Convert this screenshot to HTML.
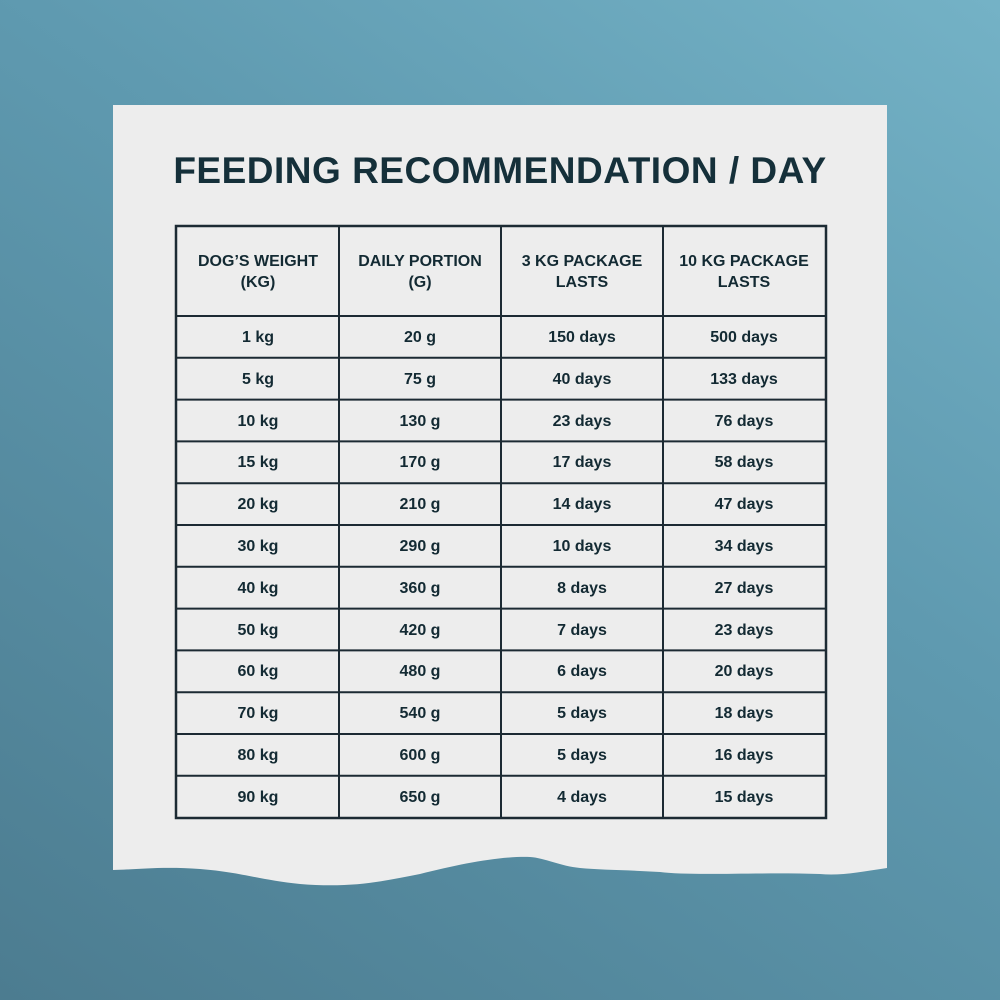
<!DOCTYPE html>
<html><head><style>
body{margin:0;width:1000px;height:1000px;overflow:hidden;position:relative;font-family:"Liberation Sans",sans-serif;}
.bg{position:absolute;inset:0;background:linear-gradient(215deg,#74b2c6 0%,#5f9ab0 40%,#4c7c90 100%);}
svg{position:absolute;left:0;top:0;}
.t{position:absolute;color:#132a33;font-weight:bold;text-align:center;}
.title{left:113px;width:774px;top:150px;font-size:37px;letter-spacing:0.5px;color:#15303a;}
.h{font-size:16px;line-height:21px;width:162px;}
.c{font-size:16px;width:162px;line-height:20px;}
</style></head><body>
<div class="bg"></div>
<svg width="1000" height="1000">
<path d="M113 105 H887 V868 C860 872 840 876 820 874 C760 872 690 876 660 872 C630 870 600 870 580 868 C560 866 545 858 530 857 C500 856 460 864 420 874 C380 882 350 888 300 884 C260 880 240 872 200 869 C160 866 130 870 113 870 Z" fill="#ededed"/>
<g stroke="#1c2a33" stroke-width="2" fill="none">
<rect x="176" y="226" width="650" height="592" stroke-width="2.5"/>
<line x1="339" y1="226" x2="339" y2="818"/><line x1="501" y1="226" x2="501" y2="818"/><line x1="663" y1="226" x2="663" y2="818"/>
<line x1="176" y1="316" x2="826" y2="316"/><line x1="176" y1="357.8" x2="826" y2="357.8"/><line x1="176" y1="399.6" x2="826" y2="399.6"/><line x1="176" y1="441.4" x2="826" y2="441.4"/><line x1="176" y1="483.2" x2="826" y2="483.2"/><line x1="176" y1="525" x2="826" y2="525"/><line x1="176" y1="566.8" x2="826" y2="566.8"/><line x1="176" y1="608.6" x2="826" y2="608.6"/><line x1="176" y1="650.4" x2="826" y2="650.4"/><line x1="176" y1="692.2" x2="826" y2="692.2"/><line x1="176" y1="734" x2="826" y2="734"/><line x1="176" y1="775.8" x2="826" y2="775.8"/>
</g></svg>
<div class="t title">FEEDING RECOMMENDATION / DAY</div>
<div class="t h" style="left:177px;top:251px">DOG’S WEIGHT<br>(KG)</div>
<div class="t h" style="left:339px;top:251px">DAILY PORTION<br>(G)</div>
<div class="t h" style="left:501px;top:251px">3 KG PACKAGE<br>LASTS</div>
<div class="t h" style="left:663px;top:251px">10 KG PACKAGE<br>LASTS</div>
<div id="rows"></div>
<script>
var d=[["1 kg","20 g","150 days","500 days"],["5 kg","75 g","40 days","133 days"],["10 kg","130 g","23 days","76 days"],["15 kg","170 g","17 days","58 days"],["20 kg","210 g","14 days","47 days"],["30 kg","290 g","10 days","34 days"],["40 kg","360 g","8 days","27 days"],["50 kg","420 g","7 days","23 days"],["60 kg","480 g","6 days","20 days"],["70 kg","540 g","5 days","18 days"],["80 kg","600 g","5 days","16 days"],["90 kg","650 g","4 days","15 days"]];
var xs=[177,339,501,663],h="";
d.forEach(function(r,i){r.forEach(function(v,j){h+='<div class="t c" style="left:'+xs[j]+'px;top:'+(328+i*41.8)+'px">'+v+'</div>';});});
document.getElementById("rows").innerHTML=h;
</script>
</body></html>
